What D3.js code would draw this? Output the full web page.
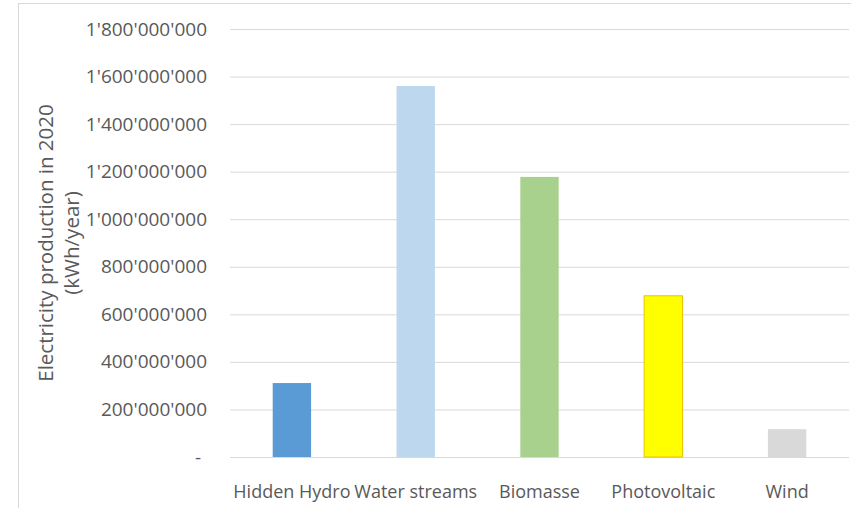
<!DOCTYPE html>
<html>
<head>
<meta charset="utf-8">
<script src="https://cdn.jsdelivr.net/npm/d3@7"></script>
<style>
  html, body { margin: 0; padding: 0; background: #fff; }
  svg { display: block; }
  text { font-family: "Open Sans", sans-serif; fill: #595959; }
</style>
</head>
<body>
<svg id="chart" width="851" height="508"></svg>
<script>
// Electricity production by source, 2020 (kWh/year)
const categories = ["Hidden Hydro", "Water streams", "Biomasse", "Photovoltaic", "Wind"];
const production = [311000000, 1560000000, 1178000000, 678000000, 117000000];
const barColors = ["#5b9bd5", "#bdd7ee", "#a9d18e", "#ffff00", "#d9d9d9"];
const barStrokes = ["none", "none", "none", "#e8c400", "none"];
const yTicks = [0, 200000000, 400000000, 600000000, 800000000, 1000000000,
                1200000000, 1400000000, 1600000000, 1800000000];
const yTitle = ["Electricity production in 2020", "(kWh/year)"];

const svg = d3.select("#chart");

// chart frame
svg.append("rect")
  .attr("x", 18.5).attr("y", 3.5)
  .attr("width", 900).attr("height", 600)
  .attr("fill", "#fff").attr("stroke", "#d9d9d9");

const plot = { left: 230, right: 849, top: 29, bottom: 457 };

const x = d3.scaleBand()
  .domain(categories)
  .range([plot.left, plot.right])
  .paddingInner(0.69)
  .paddingOuter(0.345);

const y = d3.scaleLinear()
  .domain([0, 1800000000])
  .range([plot.bottom, plot.top]);

const locale = d3.formatLocale({ decimal: ".", thousands: "'", grouping: [3], currency: ["", ""] });
const fmt = locale.format(",");

// gridlines + y tick labels
const yAxis = d3.axisLeft(y)
  .tickValues(yTicks)
  .tickSize(-(plot.right - plot.left))
  .tickPadding(23)
  .tickFormat(d => d === 0 ? "-" : fmt(d));

const gy = svg.append("g")
  .attr("transform", `translate(${plot.left},0)`)
  .call(yAxis);
gy.select(".domain").remove();
gy.selectAll(".tick line").attr("stroke", "#d9d9d9").attr("stroke-width", 1);
gy.selectAll(".tick text")
  .style("font-size", "19px")
  .attr("fill", "#595959")
  .attr("dx", d => d === 0 ? -6 : 0);

// bars
svg.append("g").selectAll("rect")
  .data(categories)
  .join("rect")
  .attr("x", d => x(d))
  .attr("width", x.bandwidth())
  .attr("y", (d, i) => y(production[i]))
  .attr("height", (d, i) => y(0) - y(production[i]))
  .attr("fill", (d, i) => barColors[i])
  .attr("stroke", (d, i) => barStrokes[i])
  .attr("stroke-width", 1);

// x axis labels
const xAxis = d3.axisBottom(x).tickSize(0).tickPadding(28);
const gx = svg.append("g")
  .attr("transform", `translate(0,${plot.bottom})`)
  .call(xAxis);
gx.select(".domain").remove();
gx.selectAll(".tick text")
  .style("font-size", "18px")
  .attr("fill", "#595959");

// y axis title
const title = svg.append("text")
  .attr("transform", "translate(46,243) rotate(-90)")
  .attr("text-anchor", "middle")
  .style("font-size", "20.5px");
title.selectAll("tspan")
  .data(yTitle)
  .join("tspan")
  .attr("x", 0)
  .attr("dy", (d, i) => i === 0 ? "0.35em" : "1.28em")
  .text(d => d);
</script>
</body>
</html>
